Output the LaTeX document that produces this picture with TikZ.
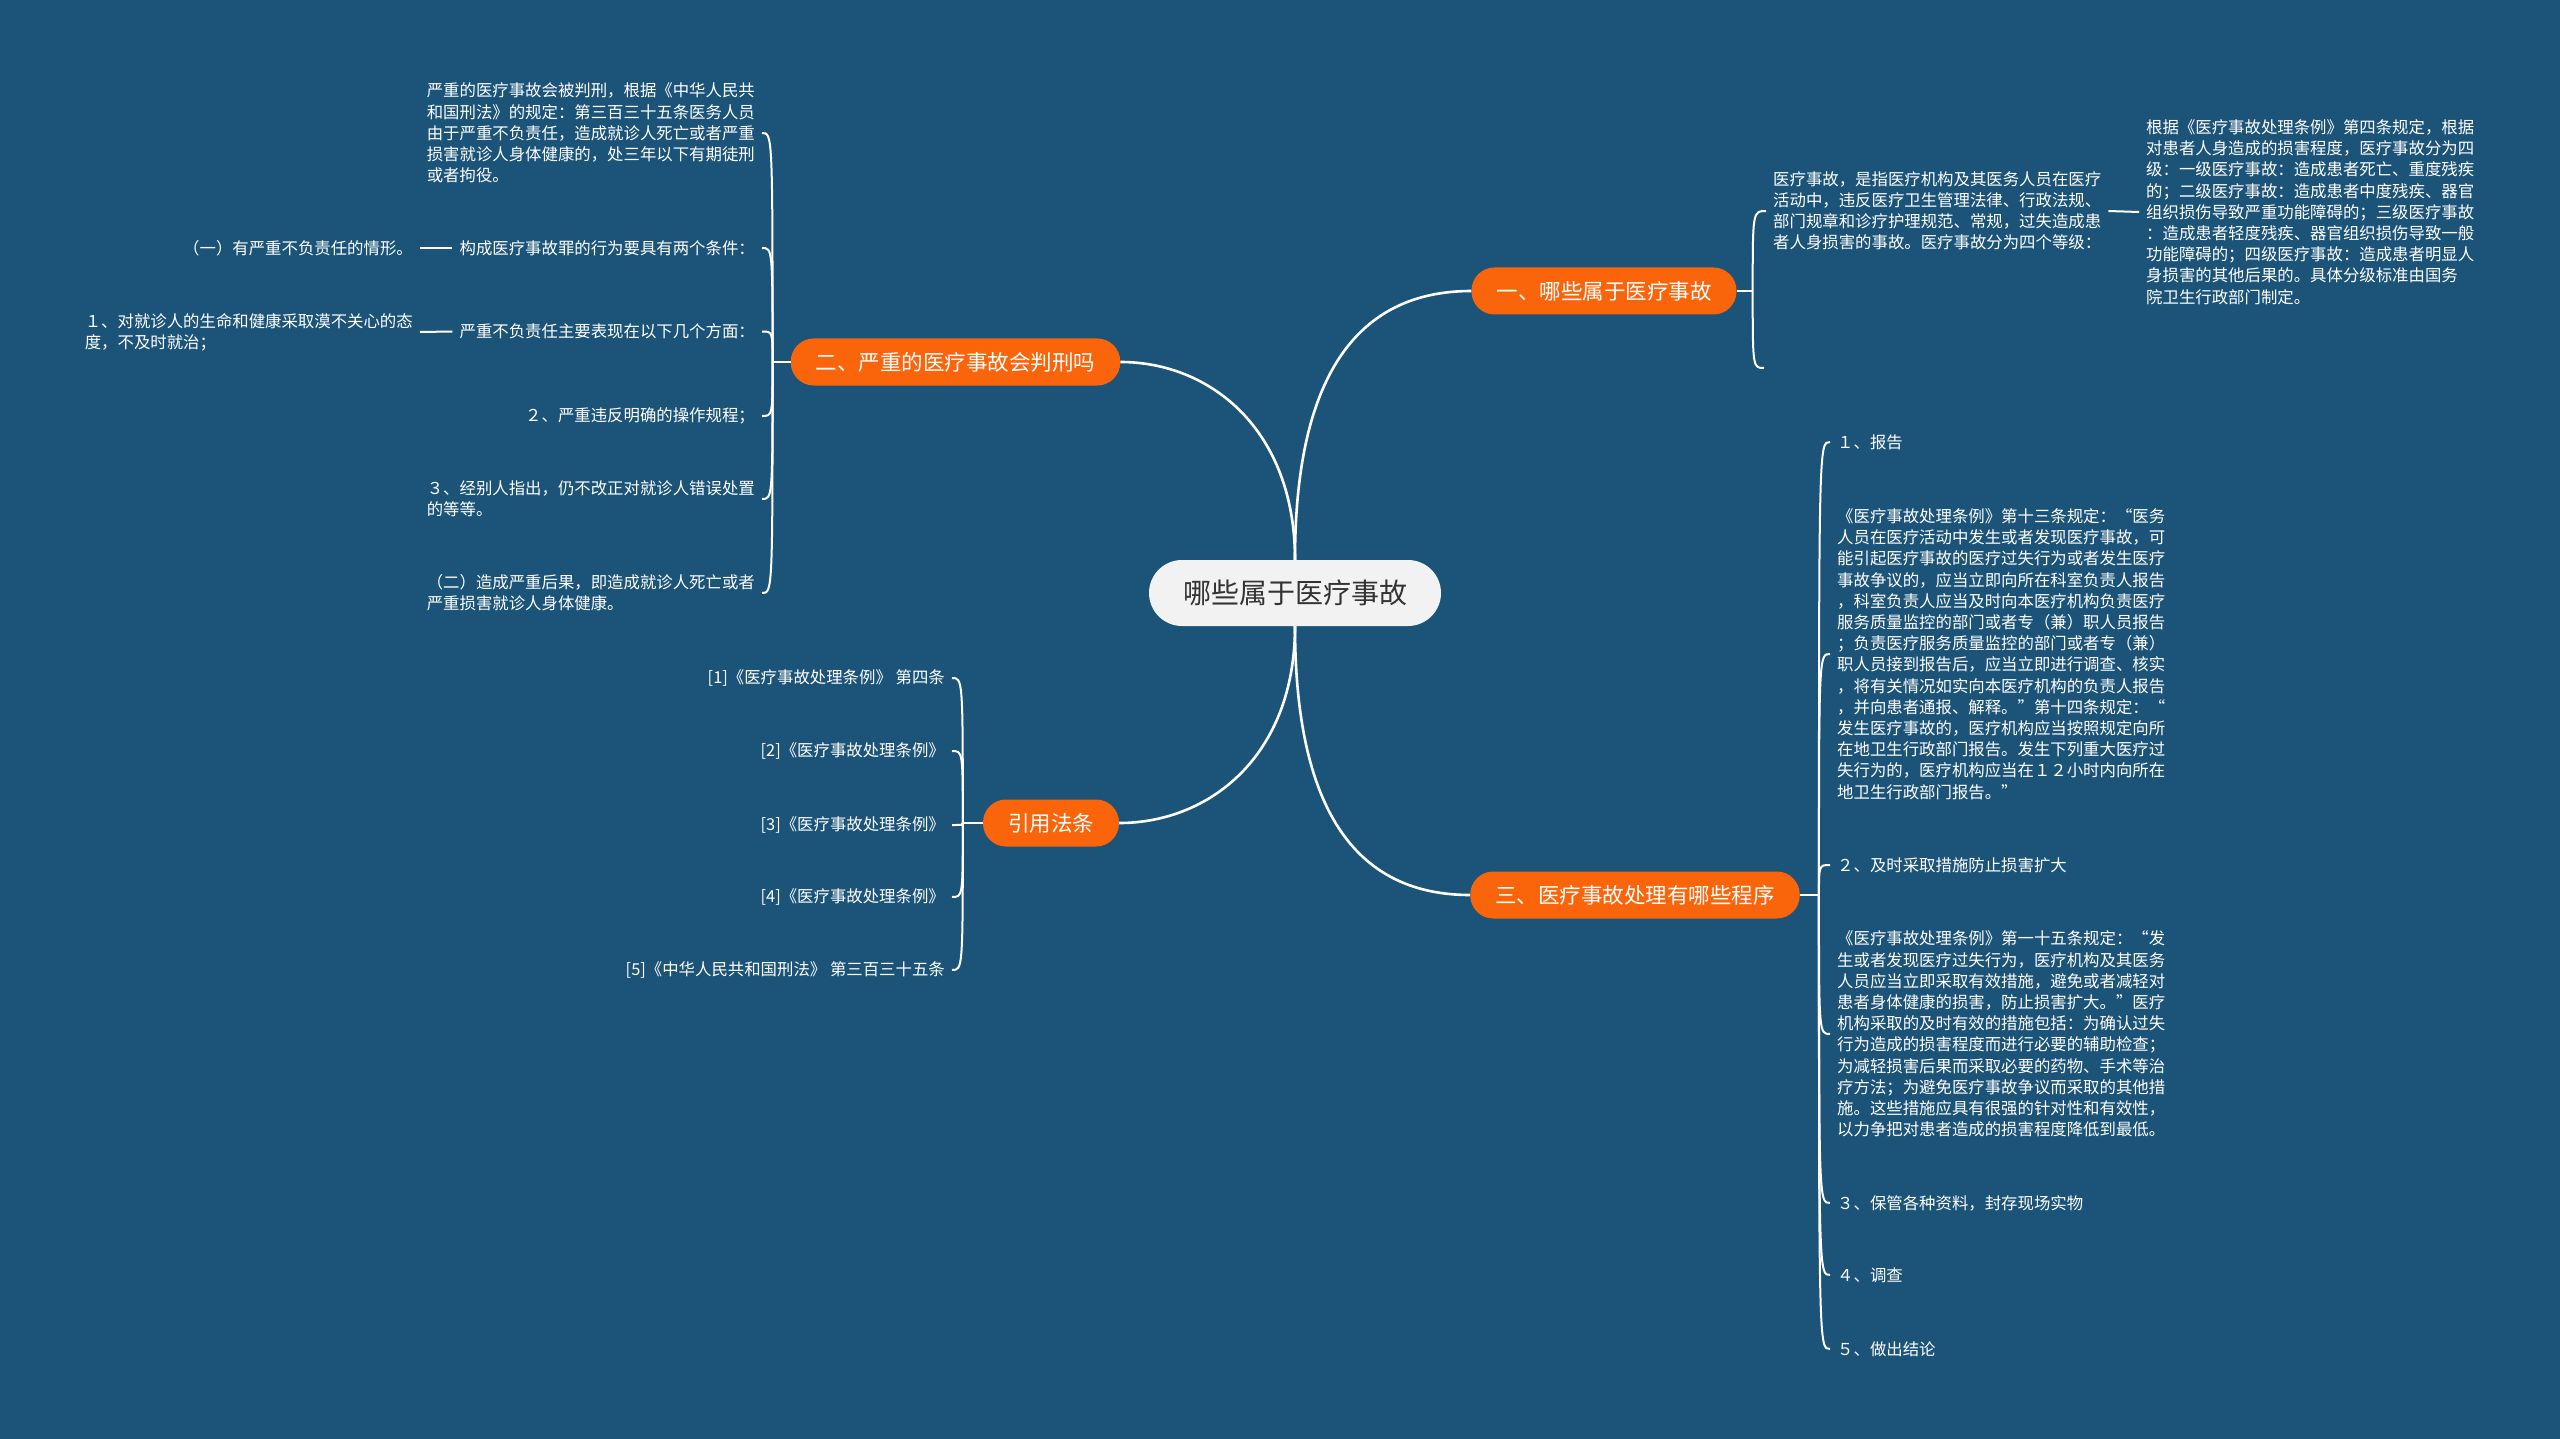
\documentclass[tikz,border=0pt]{standalone}
\usepackage{fontspec}
\setmainfont{Noto Sans CJK SC}
\usetikzlibrary{calc}
\definecolor{bg}{RGB}{27,84,120}
\definecolor{orng}{RGB}{250,100,10}
\definecolor{rootfill}{RGB}{242,242,242}
\definecolor{roottext}{RGB}{51,51,51}
\begin{document}
\begin{tikzpicture}[x=1pt,y=-1pt,
  rootbox/.style={draw=none,fill=rootfill,text=roottext,rounded corners=33pt,
    minimum height=66pt,inner xsep=34pt,font=\fontsize{28}{32}\selectfont},
  topic/.style={draw=none,fill=orng,text=white,rounded corners=23pt,
    minimum height=47pt,inner xsep=25pt,font=\fontsize{21.5}{25}\selectfont},
  leaf/.style={text=white,inner xsep=7pt,inner ysep=2pt,align=left,
    font=\fontsize{16.4}{21.2}\selectfont},
  mainline/.style={draw=white,line width=2.6pt},
  br/.style={draw=white,line width=2pt}
]
\fill[bg] (0,0) rectangle (2560,1439);
\useasboundingbox (0,0) rectangle (2560,1439);

% root and topics
\node[rootbox] (root) at (1295,593) {哪些属于医疗事故};
\node[topic] (b1) at (1604,291) {一、哪些属于医疗事故};
\node[topic] (b2) at (955.5,362) {二、严重的医疗事故会判刑吗};
\node[topic] (b3) at (1051,823) {引用法条};
\node[topic] (b4) at (1635,895) {三、医疗事故处理有哪些程序};

\draw[mainline] (root.north) .. controls +(0,-190) and +(-110,0) .. (b1.west);
\draw[mainline] (root.north) .. controls +(0,-130) and +(90,0) .. (b2.east);
\draw[mainline] (root.south) .. controls +(0,130) and +(90,0) .. (b3.east);
\draw[mainline] (root.south) .. controls +(0,190) and +(-110,0) .. (b4.west);

% branch 1
\node[leaf,anchor=west] (c11) at (1766,211) {医疗事故，是指医疗机构及其医务人员在医疗\\活动中，违反医疗卫生管理法律、行政法规、\\部门规章和诊疗护理规范、常规，过失造成患\\者人身损害的事故。医疗事故分为四个等级：};
\node[leaf,anchor=west] (c12) at (2139,212) {根据《医疗事故处理条例》第四条规定，根据\\对患者人身造成的损害程度，医疗事故分为四\\级：一级医疗事故：造成患者死亡、重度残疾\\的；二级医疗事故：造成患者中度残疾、器官\\组织损伤导致严重功能障碍的；三级医疗事故\\：造成患者轻度残疾、器官组织损伤导致一般\\功能障碍的；四级医疗事故：造成患者明显人\\身损害的其他后果的。具体分级标准由国务\\院卫生行政部门制定。};
\coordinate (s1) at ($(b1.east)+(16,0)$);
\coordinate (b1free) at (1764,368);
\draw[br] (b1.east) -- (s1);
\draw[br] (s1) .. controls (s1 |- c11.west) and (s1 |- c11.west) .. (c11.west);
\draw[br] (s1) .. controls (s1 |- b1free) and (s1 |- b1free) .. (b1free);
\draw[br] (c11.east) -- (c12.west);

% branch 2
\node[leaf,anchor=east] (c21) at (762,133) {严重的医疗事故会被判刑，根据《中华人民共\\和国刑法》的规定：第三百三十五条医务人员\\由于严重不负责任，造成就诊人死亡或者严重\\损害就诊人身体健康的，处三年以下有期徒刑\\或者拘役。};
\node[leaf,anchor=east] (c22) at (762,248) {构成医疗事故罪的行为要具有两个条件：};
\node[leaf,anchor=east] (c23) at (762,331.5) {严重不负责任主要表现在以下几个方面：};
\node[leaf,anchor=east] (c24) at (762,416) {２、严重违反明确的操作规程；};
\node[leaf,anchor=east] (c25) at (762,499) {３、经别人指出，仍不改正对就诊人错误处置\\的等等。};
\node[leaf,anchor=east] (c26) at (762,593) {（二）造成严重后果，即造成就诊人死亡或者\\严重损害就诊人身体健康。};
\node[leaf,anchor=east] (g22) at (420,248) {（一）有严重不负责任的情形。};
\node[leaf,anchor=east] (g23) at (420,332) {１、对就诊人的生命和健康采取漠不关心的态\\度，不及时就治；};
\coordinate (s2) at ($(b2.west)+(-18,0)$);
\draw[br] (b2.west) -- (s2);
\foreach \c in {c21,c22,c23,c24,c25,c26}
  \draw[br] (s2) .. controls (s2 |- \c.east) and (s2 |- \c.east) .. (\c.east);
\draw[br] (c22.west) -- (g22.east);
\draw[br] (c23.west) -- (g23.east);

% branch cite
\node[leaf,anchor=east] (c31) at (952,678) {[1]《医疗事故处理条例》 第四条};
\node[leaf,anchor=east] (c32) at (952,751) {[2]《医疗事故处理条例》};
\node[leaf,anchor=east] (c33) at (952,825) {[3]《医疗事故处理条例》};
\node[leaf,anchor=east] (c34) at (952,897) {[4]《医疗事故处理条例》};
\node[leaf,anchor=east] (c35) at (952,970) {[5]《中华人民共和国刑法》 第三百三十五条};
\coordinate (s3) at ($(b3.west)+(-20,0)$);
\draw[br] (b3.west) -- (s3);
\foreach \c in {c31,c32,c33,c34,c35}
  \draw[br] (s3) .. controls (s3 |- \c.east) and (s3 |- \c.east) .. (\c.east);

% branch 3
\node[leaf,anchor=west] (c41) at (1830,442) {１、报告};
\node[leaf,anchor=west] (c42) at (1830,654) {《医疗事故处理条例》第十三条规定：“医务\\人员在医疗活动中发生或者发现医疗事故，可\\能引起医疗事故的医疗过失行为或者发生医疗\\事故争议的，应当立即向所在科室负责人报告\\，科室负责人应当及时向本医疗机构负责医疗\\服务质量监控的部门或者专（兼）职人员报告\\；负责医疗服务质量监控的部门或者专（兼）\\职人员接到报告后，应当立即进行调查、核实\\，将有关情况如实向本医疗机构的负责人报告\\，并向患者通报、解释。”第十四条规定：“\\发生医疗事故的，医疗机构应当按照规定向所\\在地卫生行政部门报告。发生下列重大医疗过\\失行为的，医疗机构应当在１２小时内向所在\\地卫生行政部门报告。”};
\node[leaf,anchor=west] (c43) at (1830,865) {２、及时采取措施防止损害扩大};
\node[leaf,anchor=west] (c44) at (1830,1034) {《医疗事故处理条例》第一十五条规定：“发\\生或者发现医疗过失行为，医疗机构及其医务\\人员应当立即采取有效措施，避免或者减轻对\\患者身体健康的损害，防止损害扩大。”医疗\\机构采取的及时有效的措施包括：为确认过失\\行为造成的损害程度而进行必要的辅助检查；\\为减轻损害后果而采取必要的药物、手术等治\\疗方法；为避免医疗事故争议而采取的其他措\\施。这些措施应具有很强的针对性和有效性，\\以力争把对患者造成的损害程度降低到最低。};
\node[leaf,anchor=west] (c45) at (1830,1203) {３、保管各种资料，封存现场实物};
\node[leaf,anchor=west] (c46) at (1830,1275) {４、调查};
\node[leaf,anchor=west] (c47) at (1830,1349) {５、做出结论};
\coordinate (s4) at ($(b4.east)+(19,0)$);
\draw[br] (b4.east) -- (s4);
\foreach \c in {c41,c42,c43,c44,c45,c46,c47}
  \draw[br] (s4) .. controls (s4 |- \c.west) and (s4 |- \c.west) .. (\c.west);
\end{tikzpicture}
\end{document}
